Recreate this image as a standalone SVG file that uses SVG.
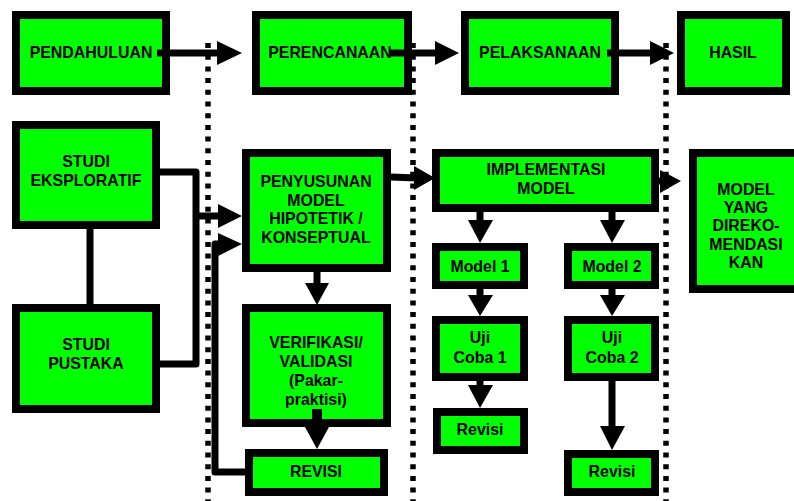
<svg xmlns="http://www.w3.org/2000/svg" width="794" height="501" viewBox="0 0 794 501">
<style>
.box{fill:#00ff00;stroke:#000;stroke-width:8}
.t{font-family:"Liberation Sans",Arial,sans-serif;font-weight:bold;font-size:15.9px;fill:#000;text-anchor:middle}
.dot{stroke:#000;stroke-width:5.5;stroke-dasharray:5 6.7;fill:none}
.ln{stroke:#000;stroke-width:7;fill:none;stroke-linejoin:round}
.ah{fill:#000}
</style>
<rect width="794" height="501" fill="#fff"/>
<g id="dividers">
<line class="dot" x1="208" y1="43" x2="208" y2="501"/>
<line class="dot" x1="413" y1="43" x2="413" y2="501"/>
<line class="dot" x1="666" y1="43" x2="666" y2="501"/>
</g>
<g id="pendahuluan"><rect class="box" x="16" y="15" width="150" height="76"/><text class="t" x="91" y="58">PENDAHULUAN</text></g>
<g id="perencanaan"><rect class="box" x="256" y="15" width="152" height="76"/><text class="t" x="330" y="58">PERENCANAAN</text></g>
<g id="pelaksanaan"><rect class="box" x="465" y="15" width="150" height="76"/><text class="t" x="540" y="58">PELAKSANAAN</text></g>
<g id="hasil"><rect class="box" x="681" y="15" width="105" height="76"/><text class="t" x="733" y="58">HASIL</text></g>
<g id="studi-eksploratif"><rect class="box" x="16" y="125" width="140" height="100"/><text class="t" x="86" y="167">STUDI</text><text class="t" x="86" y="186">EKSPLORATIF</text></g>
<g id="studi-pustaka"><rect class="box" x="16" y="308" width="140" height="101"/><text class="t" x="86" y="350">STUDI</text><text class="t" x="86" y="369">PUSTAKA</text></g>
<g id="penyusunan"><rect class="box" x="246" y="153" width="141" height="115"/><text class="t" x="316" y="187">PENYUSUNAN</text><text class="t" x="316" y="206">MODEL</text><text class="t" x="316" y="224">HIPOTETIK /</text><text class="t" x="316" y="243">KONSEPTUAL</text></g>
<g id="verifikasi"><rect class="box" x="246" y="308" width="141" height="115"/><text class="t" x="316" y="348">VERIFIKASI/</text><text class="t" x="316" y="367">VALIDASI</text><text class="t" x="316" y="386">(Pakar-</text><text class="t" x="316" y="405">praktisi)</text></g>
<g id="revisi-perencanaan"><rect class="box" x="249" y="453" width="135" height="39"/><text class="t" x="316" y="477">REVISI</text></g>
<g id="implementasi"><rect class="box" x="436" y="153" width="219" height="55"/><text class="t" x="546" y="175">IMPLEMENTASI</text><text class="t" x="546" y="194">MODEL</text></g>
<g id="model-direkomendasikan"><rect class="box" x="693" y="153" width="106" height="136"/><text class="t" x="746" y="195">MODEL</text><text class="t" x="746" y="213">YANG</text><text class="t" x="746" y="231">DIREKO-</text><text class="t" x="746" y="250">MENDASI</text><text class="t" x="746" y="268">KAN</text></g>
<g id="model1"><rect class="box" x="436" y="247" width="88" height="38"/><text class="t" x="480" y="272">Model 1</text></g>
<g id="model2"><rect class="box" x="568" y="247" width="87" height="38"/><text class="t" x="612" y="272">Model 2</text></g>
<g id="ujicoba1"><rect class="box" x="436" y="320" width="88" height="57"/><text class="t" x="480" y="343">Uji</text><text class="t" x="480" y="363">Coba 1</text></g>
<g id="ujicoba2"><rect class="box" x="568" y="320" width="87" height="57"/><text class="t" x="612" y="343">Uji</text><text class="t" x="612" y="363">Coba 2</text></g>
<g id="revisi1"><rect class="box" x="437" y="412" width="87" height="38"/><text class="t" x="480" y="435">Revisi</text></g>
<g id="revisi2"><rect class="box" x="568" y="454" width="87" height="38"/><text class="t" x="612" y="477">Revisi</text></g>
<g id="connectors">
<line class="ln" x1="157" y1="53" x2="222" y2="53"/><polygon class="ah" points="217,41 242,53 217,65"/>
<line class="ln" x1="390" y1="53" x2="438" y2="53"/><polygon class="ah" points="435,41 459,53 435,65"/>
<line class="ln" x1="607" y1="53" x2="653" y2="53"/><polygon class="ah" points="650,41 674,53 650,65"/>
<line class="ln" x1="90" y1="229" x2="90" y2="304"/>
<path class="ln" d="M160,172 H196 V364 H160"/>
<line class="ln" x1="196" y1="216" x2="221" y2="216"/><polygon class="ah" points="218,204 242,216 218,228"/>
<path class="ln" d="M245,472 H215 V244 H221"/><polygon class="ah" points="218,233 242,244 218,256"/>
<line class="ln" x1="317" y1="272" x2="317" y2="286"/><polygon class="ah" points="305,283 329,283 317,305"/>
<rect class="ah" x="312" y="409" width="10" height="20"/><polygon class="ah" points="305,427 329,427 317,449"/>
<line class="ln" x1="391" y1="177" x2="417" y2="178"/><polygon class="ah" points="414,166 435,178 414,190"/>
<line class="ln" x1="659" y1="181" x2="663" y2="181"/><polygon class="ah" points="660,170 681,181 660,193"/>
<line class="ln" x1="480" y1="212" x2="480" y2="222"/><polygon class="ah" points="468,220 493,220 480,243"/>
<line class="ln" x1="612" y1="212" x2="612" y2="222"/><polygon class="ah" points="600,220 625,220 612,243"/>
<line class="ln" x1="480" y1="289" x2="480" y2="297"/><polygon class="ah" points="468,295 493,295 480,316"/>
<line class="ln" x1="612" y1="289" x2="612" y2="297"/><polygon class="ah" points="600,295 625,295 612,316"/>
<line class="ln" x1="480" y1="381" x2="480" y2="388"/><polygon class="ah" points="468,385 493,385 480,408"/>
<line class="ln" x1="612" y1="381" x2="612" y2="429"/><polygon class="ah" points="600,426 625,426 612,450"/>
</g>
</svg>
